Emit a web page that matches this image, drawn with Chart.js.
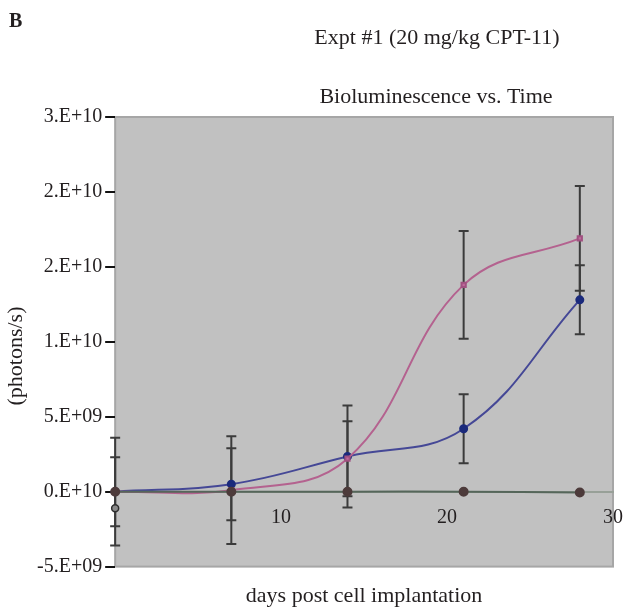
<!DOCTYPE html>
<html>
<head>
<meta charset="utf-8">
<script src="https://cdn.jsdelivr.net/npm/chart.js@4"></script>
<style>
    html, body { margin: 0; padding: 0; background: #fff; }
    #wrap { width: 630px; height: 612px; }
</style>
</head>
<body>
<div id="wrap"><canvas id="bioChart" width="630" height="612"></canvas></div>
<script>
// Chart data
const days = [0, 7, 14, 21, 28];
const pinkValues = [0, 0.1e9, 2.2e9, 13.8e9, 16.9e9];
const pinkErrors = [3.6e9, 3.6e9, 2.5e9, 3.6e9, 3.5e9];
const blueValues = [0, 0.5e9, 2.35e9, 4.2e9, 12.8e9];
const blueErrors = [2.3e9, 2.4e9, 3.4e9, 2.3e9, 2.3e9];
const controlValues = [0, 0, 0, 0, -0.05e9];
const outlierDay = [0];
const outlierValue = [-1.1e9];
const yTickLabels = ['-5.E+09', '0.E+10', '5.E+09', '1.E+10', '2.E+10', '2.E+10', '3.E+10'];
const xTickLabels = ['', '10', '20', '30'];

const SERIF = "'Liberation Serif', 'DejaVu Serif', serif";

function toPoints(xs, ys) {
    return xs.map((x, i) => ({ x: x, y: ys[i] }));
}

// Gray plot background and frame
const plotBackground = {
    id: 'plotBackground',
    beforeDraw(chart) {
        const { ctx, chartArea: a } = chart;
        ctx.save();
        ctx.fillStyle = '#c1c1c1';
        ctx.fillRect(a.left, a.top, a.width, a.height);
        ctx.strokeStyle = '#a6a6a6';
        ctx.lineWidth = 2;
        ctx.strokeRect(a.left, a.top, a.width, a.height);
        ctx.restore();
    }
};

// Vertical error bars with caps
const errorBars = {
    id: 'errorBars',
    beforeDatasetsDraw(chart) {
        const { ctx, scales } = chart;
        const sets = [[pinkValues, pinkErrors], [blueValues, blueErrors]];
        ctx.save();
        ctx.strokeStyle = '#3b3b3b';
        ctx.lineWidth = 2;
        sets.forEach(([vals, errs]) => {
            days.forEach((d, i) => {
                const x = scales.x.getPixelForValue(d);
                const top = scales.y.getPixelForValue(vals[i] + errs[i]);
                const bottom = scales.y.getPixelForValue(vals[i] - errs[i]);
                ctx.beginPath();
                ctx.moveTo(x, top);
                ctx.lineTo(x, bottom);
                ctx.moveTo(x - 5, top);
                ctx.lineTo(x + 5, top);
                ctx.moveTo(x - 5, bottom);
                ctx.lineTo(x + 5, bottom);
                ctx.stroke();
            });
        });
        ctx.restore();
    }
};

// Panel letter, the two heading lines and the rotated y caption
const headings = {
    id: 'headings',
    afterDraw(chart) {
        const ctx = chart.ctx;
        ctx.save();
        ctx.fillStyle = '#231f20';
        ctx.textBaseline = 'middle';
        ctx.font = 'bold 20px ' + SERIF;
        ctx.textAlign = 'left';
        ctx.fillText('B', 9, 22);
        ctx.font = '22px ' + SERIF;
        ctx.textAlign = 'center';
        ctx.fillText('Expt #1 (20 mg/kg CPT-11)', 437, 38);
        ctx.fillText('Bioluminescence vs. Time', 436, 97);
        ctx.translate(16, 356);
        ctx.rotate(-Math.PI / 2);
        ctx.fillText('(photons/s)', 0, 0);
        ctx.restore();
    }
};

const ctx = document.getElementById('bioChart').getContext('2d');

new Chart(ctx, {
    type: 'line',
    data: {
        datasets: [
            {
                label: 'Control',
                data: toPoints(days, controlValues),
                xAxisID: 'x',
                clip: 8,
                borderColor: '#55665a',
                borderWidth: 2,
                pointRadius: 4,
                pointBackgroundColor: '#4d3b3b',
                pointBorderColor: '#4d3b3b',
                tension: 0.4
            },
            {
                label: 'Day 0 point',
                data: toPoints(outlierDay, outlierValue),
                xAxisID: 'x',
                clip: 8,
                showLine: false,
                pointRadius: 3.5,
                pointBackgroundColor: '#8a8a8a',
                pointBorderColor: '#2e2e2e',
                pointBorderWidth: 1.5
            },
            {
                label: 'Pink group',
                data: toPoints(days, pinkValues),
                xAxisID: 'x',
                clip: 8,
                borderColor: '#b4628f',
                borderWidth: 2,
                pointStyle: 'rect',
                pointRadius: 3,
                pointBackgroundColor: '#c06a9c',
                pointBorderColor: '#a05080',
                tension: 0.4
            },
            {
                label: 'Blue group',
                data: toPoints(days, blueValues),
                xAxisID: 'x',
                clip: 8,
                borderColor: '#454896',
                borderWidth: 2,
                pointRadius: 3.5,
                pointBackgroundColor: '#1b2a7c',
                pointBorderColor: '#1b2a7c',
                tension: 0.4
            }
        ]
    },
    options: {
        responsive: false,
        animation: false,
        layout: {
            padding: { top: 117, right: 17, bottom: 3, left: 34 }
        },
        plugins: {
            legend: { display: false },
            tooltip: { enabled: false }
        },
        scales: {
            x: {
                type: 'linear',
                position: { y: 0 },
                min: 0,
                max: 30,
                grid: { display: false },
                border: { display: true, color: '#98a098', width: 2 },
                ticks: {
                    stepSize: 10,
                    padding: 6,
                    color: '#231f20',
                    font: { family: SERIF, size: 20 },
                    callback: function(value) {
                        return xTickLabels[Math.round(value / 10)];
                    }
                }
            },
            xb: {
                type: 'linear',
                position: 'bottom',
                min: 0,
                max: 30,
                grid: { display: false, drawTicks: false },
                border: { display: false },
                ticks: { display: false },
                title: {
                    display: true,
                    text: 'days post cell implantation',
                    color: '#231f20',
                    font: { family: SERIF, size: 22 },
                    padding: { top: 16, bottom: 0 }
                }
            },
            y: {
                min: -5e9,
                max: 2.5e10,
                grid: {
                    drawOnChartArea: false,
                    drawTicks: true,
                    tickLength: 10,
                    color: '#111',
                    lineWidth: 2
                },
                border: { display: false },
                ticks: {
                    stepSize: 5e9,
                    padding: 3,
                    color: '#231f20',
                    font: { family: SERIF, size: 20 },
                    callback: function(value) {
                        return yTickLabels[Math.round((value + 5e9) / 5e9)];
                    }
                }
            }
        }
    },
    plugins: [plotBackground, errorBars, headings]
});
</script>
</body>
</html>
